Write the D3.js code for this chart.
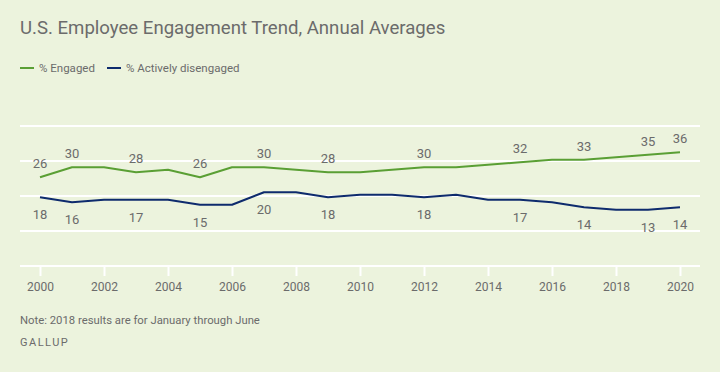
<!DOCTYPE html>
<html>
<head>
<meta charset="utf-8">
<script src="https://cdn.jsdelivr.net/npm/d3@7"></script>
<style>
  body { margin: 0; background: #ecf3dd; }
  svg { display: block; font-family: Roboto, "Open Sans", sans-serif; }
</style>
</head>
<body>
<svg id="chart"></svg>
<script>
// data
let years = d3.range(2000, 2021);
let engaged = [26, 30, 30, 28, 29, 26, 30, 30, 29, 28, 28, 29, 30, 30, 31, 32, 33, 33, 34, 35, 36];
let disengaged = [18, 16, 17, 17, 17, 15, 15, 20, 20, 18, 19, 19, 18, 19, 17, 17, 16, 14, 13, 13, 14];
let labelYears = [2000, 2001, 2003, 2005, 2007, 2009, 2012, 2015, 2017, 2019, 2020];
let tickYears = d3.range(2000, 2021, 2);
let gridValues = [-9.5, 4.5, 18.5, 32.5, 46.5];

let W = 720, H = 372;
let green = "#5a9f34", navy = "#0e2b6d", grey = "#6b6b6b";
let font = "Roboto, 'Open Sans', sans-serif";

let x = d3.scaleLinear().domain([2000, 2020]).range([40, 680]);
let y = d3.scaleLinear().domain([-9.5, 46.5]).range([266, 126]);

let svg = d3.select("#chart")
  .attr("width", W)
  .attr("height", H);

svg.append("rect").attr("width", W).attr("height", H).attr("fill", "#ecf3dd");

// title
svg.append("text")
  .attr("x", 20).attr("y", 34)
  .attr("fill", grey)
  .style("font-size", "18.6px")
  .text("U.S. Employee Engagement Trend, Annual Averages");

// legend
let legend = [
  { name: "% Engaged", color: green, x: 20 },
  { name: "% Actively disengaged", color: navy, x: 107 }
];
let lg = svg.selectAll(".legend").data(legend).enter().append("g")
  .attr("class", "legend")
  .attr("transform", d => "translate(" + d.x + ",68)");
lg.append("line").attr("x1", 0).attr("x2", 14)
  .attr("stroke", d => d.color).attr("stroke-width", 2);
lg.append("text").attr("x", 19).attr("y", 4)
  .attr("fill", grey).style("font-size", "11.5px")
  .text(d => d.name);

// gridlines
svg.selectAll(".grid").data(gridValues).enter().append("line")
  .attr("class", "grid")
  .attr("x1", 20).attr("x2", 700)
  .attr("y1", d => y(d)).attr("y2", d => y(d))
  .attr("stroke", "#fff").attr("stroke-width", 2);

// x axis
let xAxis = d3.axisBottom(x)
  .tickValues(tickYears)
  .tickFormat(d3.format("d"))
  .tickSize(10)
  .tickPadding(6);
let gx = svg.append("g")
  .attr("transform", "translate(0," + y(-9.5) + ")")
  .call(xAxis);
gx.select(".domain").remove();
gx.selectAll(".tick line").attr("stroke", "#fff").attr("stroke-width", 2);
gx.selectAll(".tick text").attr("fill", grey)
  .style("font-size", "12px").style("font-family", font);

// lines
let series = [
  { key: "engaged", values: engaged, color: green, dy: -9 },
  { key: "disengaged", values: disengaged, color: navy, dy: 22 }
];
let line = d3.line()
  .x((d, i) => x(years[i]))
  .y(d => y(d));

series.forEach(s => {
  svg.append("path")
    .datum(s.values)
    .attr("fill", "none")
    .attr("stroke", s.color)
    .attr("stroke-width", 2)
    .attr("stroke-linejoin", "round")
    .attr("d", line);

  svg.selectAll(".lbl-" + s.key)
    .data(labelYears)
    .enter().append("text")
    .attr("class", "lbl-" + s.key)
    .attr("x", d => x(d))
    .attr("y", d => y(s.values[years.indexOf(d)]) + s.dy)
    .attr("text-anchor", "middle")
    .attr("fill", grey)
    .style("font-size", "13px")
    .text(d => s.values[years.indexOf(d)]);
});

// footer
svg.append("text")
  .attr("x", 20).attr("y", 324)
  .attr("fill", grey).style("font-size", "11.3px")
  .text("Note: 2018 results are for January through June");
svg.append("text")
  .attr("x", 20).attr("y", 346)
  .attr("fill", grey).style("font-size", "11px")
  .style("letter-spacing", "1.5px")
  .text("GALLUP");
</script>
</body>
</html>
